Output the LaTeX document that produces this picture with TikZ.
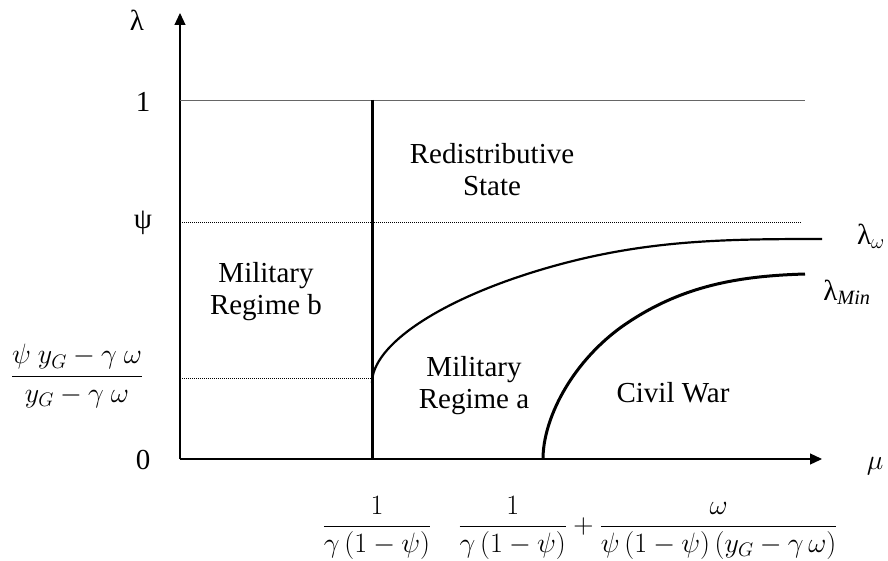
\RequirePackage{fix-cm}
\documentclass[tikz,border=0pt]{standalone}
\usepackage{fontspec}
\setmainfont{Liberation Serif}
\usetikzlibrary{arrows.meta}

\tikzset{
  axisline/.style={line width=1.2pt, -{Triangle[length=12pt,width=11pt]}},
  guide/.style={line width=0.6pt, dash pattern=on 1pt off 1pt},
  border/.style={line width=3pt},
  curve/.style={line width=2.2pt},
  lbl/.style={font=\fontsize{29}{32}\selectfont, inner sep=0pt, align=center},
  formula/.style={font=\fontsize{28}{32}\selectfont, inner sep=0pt},
}

\begin{document}
\begin{tikzpicture}[x=1pt, y=-1pt]
		\useasboundingbox (0,0) rectangle (888,561);

		% axes
		\draw[axisline] (180,459) -- (180,13);
		\draw[axisline] (180,459) -- (822,459);
		\node[lbl] (lamax) at (137,20) {λ};
		\node[formula] (muax) at (875,466) {$\mu$};

		% levels on the lambda axis
		\draw[line width=1.2pt, black!60] (180,100.5) -- (805,100.5);
		\draw[guide] (180,222.5) -- (802,222.5);
		\draw[guide] (180,378) -- (372,378);
		\node[lbl] (one) at (143,102) {1};
		\node[lbl] (psi) at (143,223) {ψ};
		\node[formula] (low) at (77,376) {$\displaystyle\frac{\psi\ y_G-\gamma\ \omega}{y_G-\gamma\ \omega}$};
		\node[lbl] (zero) at (143,460) {0};

		% regime borders
		\draw[border] (372,100) -- (372,459);
		\draw[curve] (372,383) .. controls (372,345) and (440,300) .. (540,270)
			.. controls (640,240) and (720,239) .. (822,239);
		\draw[curve, line width=3pt] (543,459) .. controls (543,420) and (570,365) .. (620,328)
			.. controls (680,285) and (740,276) .. (805,274);
		\node[lbl] (lamw) at (871,236) {λ$_{\omega}$};
		\node[lbl] (lammin) at (847,292) {λ$_{\mathit{Min}}$};

		% mu axis values
		\node[formula] (mua) at (377,528) {$\displaystyle\frac{1}{\gamma\,(1-\psi)}$};
		\node[formula] (mub) at (648,528) {$\displaystyle\frac{1}{\gamma\,(1-\psi)}+\frac{\omega}{\psi\,(1-\psi)\,(y_G-\gamma\,\omega)}$};

		% regimes
		\node[lbl] (redist) at (492,170) {Redistributive\\State};
		\node[lbl] (milb) at (266,292) {Military\\Regime b};
		\node[lbl] (mila) at (474,386) {Military\\Regime a};
		\node[lbl] (civil) at (673,393) {Civil War};

	\end{tikzpicture}
\end{document}
